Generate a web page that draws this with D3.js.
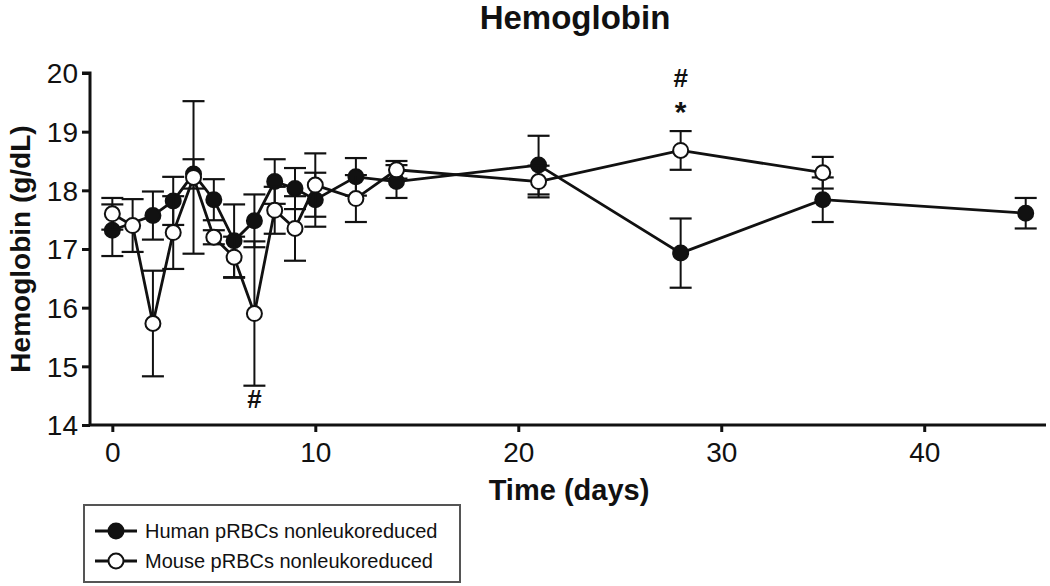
<!DOCTYPE html>
<html>
<head>
<meta charset="utf-8">
<script src="https://cdn.jsdelivr.net/npm/d3@7/dist/d3.min.js"></script>
<style>
  html, body { margin: 0; padding: 0; background: #fff; }
  svg { display: block; font-family: "Liberation Sans", Arial, sans-serif; }
</style>
</head>
<body>
<svg id="chart" width="1050" height="586"></svg>
<script>
// ---- data ----
const humanDays  = [0, 2, 3, 4, 5, 6, 7, 8, 9, 10, 12, 14, 21, 28, 35, 45];
const humanMean  = [17.32, 17.57, 17.82, 18.28, 17.84, 17.14, 17.48, 18.15, 18.03, 17.84, 18.23, 18.15, 18.43, 16.93, 17.84, 17.61];
const humanErr   = [0.44, 0.41, 0.41, 0.25, 0.35, 0.62, 0.45, 0.38, 0.35, 0.46, 0.32, 0.28, 0.50, 0.59, 0.38, 0.26];

const mouseDays  = [0, 1, 2, 3, 4, 5, 6, 7, 8, 9, 10, 12, 14, 21, 28, 35];
const mouseMean  = [17.60, 17.40, 15.73, 17.28, 18.22, 17.20, 16.86, 15.90, 17.66, 17.35, 18.09, 17.86, 18.35, 18.15, 18.68, 18.30];
const mouseErr   = [0.27, 0.45, 0.90, 0.62, 1.30, 0.12, 0.35, 1.23, 0.40, 0.55, 0.54, 0.40, 0.15, 0.27, 0.33, 0.27];

const xTicks = [0, 10, 20, 30, 40];
const yTicks = [14, 15, 16, 17, 18, 19, 20];

const seriesNames = ["Human pRBCs nonleukoreduced", "Mouse pRBCs nonleukoreduced"];

const annotations = [
  { day: 7,  value: 14.44, text: "#" },
  { day: 28, value: 19.34, text: "*" },
  { day: 28, value: 19.92, text: "#" }
];

// ---- layout ----
const svg = d3.select("#chart");
const x = d3.scaleLinear().domain([-1.1, 46]).range([90, 1046]);
const y = d3.scaleLinear().domain([14, 20]).range([425, 73]);

const INK = "#111";

// title
svg.append("text")
  .attr("x", 575).attr("y", 29)
  .attr("text-anchor", "middle")
  .attr("font-size", 33).attr("font-weight", "bold")
  .attr("fill", INK)
  .text("Hemoglobin");

// axes
const yAxis = d3.axisLeft(y).tickValues(yTicks).tickSize(8).tickPadding(4).tickFormat(d3.format("d"));
const xAxis = d3.axisBottom(x).tickValues(xTicks).tickSize(7).tickPadding(10).tickFormat(d3.format("d"));

const gy = svg.append("g").attr("transform", "translate(90,0)").call(yAxis);
const gx = svg.append("g").attr("transform", "translate(0,425)").call(xAxis);

[gx, gy].forEach(g => {
  g.select(".domain").attr("stroke", INK).attr("stroke-width", 3);
  g.selectAll(".tick line").attr("stroke", INK).attr("stroke-width", 3);
  g.selectAll(".tick text").attr("fill", INK).attr("font-size", 28)
    .attr("font-family", "Liberation Sans, Arial, sans-serif");
});
gy.select(".domain").attr("d", "M-8,73H0V425");
gx.select(".domain").attr("d", "M90,0H1046");
gy.selectAll(".tick text").attr("dy", "0.35em");

// axis titles
svg.append("text")
  .attr("x", 569).attr("y", 500)
  .attr("text-anchor", "middle")
  .attr("font-size", 29).attr("font-weight", "bold")
  .attr("fill", INK)
  .text("Time (days)");

svg.append("text")
  .attr("transform", "translate(30,249) rotate(-90)")
  .attr("text-anchor", "middle")
  .attr("font-size", 28).attr("font-weight", "bold")
  .attr("fill", INK)
  .text("Hemoglobin (g/dL)");

// ---- series ----
function drawSeries(days, mean, err, fill) {
  const pts = days.map((d, i) => ({ d, m: mean[i], e: err[i] }));
  const g = svg.append("g");
  // error bars
  const eb = g.selectAll(".eb").data(pts).enter().append("g");
  eb.append("line")
    .attr("x1", p => x(p.d)).attr("x2", p => x(p.d))
    .attr("y1", p => y(p.m - p.e)).attr("y2", p => y(p.m + p.e))
    .attr("stroke", INK).attr("stroke-width", 2);
  [-1, 1].forEach(s => {
    eb.append("line")
      .attr("x1", p => x(p.d) - 11).attr("x2", p => x(p.d) + 11)
      .attr("y1", p => y(p.m + s * p.e)).attr("y2", p => y(p.m + s * p.e))
      .attr("stroke", INK).attr("stroke-width", 2.2);
  });
  // line
  g.append("path")
    .datum(pts)
    .attr("fill", "none").attr("stroke", INK).attr("stroke-width", 2.8)
    .attr("d", d3.line().x(p => x(p.d)).y(p => y(p.m)));
  // markers
  g.selectAll("circle").data(pts).enter().append("circle")
    .attr("cx", p => x(p.d)).attr("cy", p => y(p.m))
    .attr("r", 7.5)
    .attr("fill", fill).attr("stroke", INK).attr("stroke-width", 2);
}

drawSeries(humanDays, humanMean, humanErr, INK);
drawSeries(mouseDays, mouseMean, mouseErr, "#fff");

// annotations
svg.selectAll(".ann").data(annotations).enter().append("text")
  .attr("x", a => x(a.day)).attr("y", a => y(a.value))
  .attr("text-anchor", "middle").attr("dy", "0.35em")
  .attr("font-size", a => a.text === "*" ? 30 : 26)
  .attr("font-weight", "bold")
  .attr("fill", INK)
  .text(a => a.text);

// ---- legend ----
const lg = svg.append("g");
lg.append("rect")
  .attr("x", 84).attr("y", 505).attr("width", 376).attr("height", 77)
  .attr("fill", "#fff").attr("stroke", "#555").attr("stroke-width", 2);

seriesNames.forEach((name, i) => {
  const cy = 531 + i * 30;
  lg.append("line").attr("x1", 95).attr("x2", 137).attr("y1", cy).attr("y2", cy)
    .attr("stroke", INK).attr("stroke-width", 2.8);
  lg.append("circle").attr("cx", 116).attr("cy", cy).attr("r", 7.5)
    .attr("fill", i === 0 ? INK : "#fff").attr("stroke", INK).attr("stroke-width", 2);
  lg.append("text").attr("x", 145).attr("y", cy + 7)
    .attr("font-size", 20).attr("fill", INK)
    .text(name);
});
</script>
</body>
</html>
